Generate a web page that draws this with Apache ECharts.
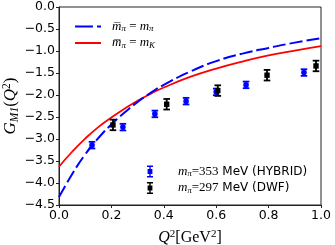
<!DOCTYPE html>
<html>
<head>
<meta charset="utf-8">
<script src="https://cdn.jsdelivr.net/npm/echarts@6/dist/echarts.min.js"></script>
<style>html,body{margin:0;padding:0;background:#fff}#c{width:335px;height:245px}</style>
</head>
<body>
<div id="c"></div>
<script>
// Model curves
const curveQ2 = [0, 0.05, 0.1, 0.15, 0.2, 0.25, 0.3, 0.35, 0.4, 0.5, 0.6, 0.7, 0.8, 0.9, 1.0];
const curvePi = [-4.32, -3.80, -3.35, -2.98, -2.67, -2.40, -2.16, -1.95, -1.77, -1.47, -1.23, -1.06, -0.93, -0.81, -0.71];
const curveK  = [-3.63, -3.29, -2.99, -2.73, -2.51, -2.31, -2.13, -1.97, -1.83, -1.59, -1.40, -1.24, -1.10, -0.99, -0.89];
// Lattice data
const hybridQ2  = [0.126, 0.244, 0.366, 0.485, 0.600, 0.714, 0.935];
const hybridGM1 = [-3.14, -2.73, -2.43, -2.14, -1.93, -1.77, -1.49];
const hybridErr = [0.075, 0.075, 0.075, 0.075, 0.075, 0.075, 0.075];
const dwfQ2  = [0.206, 0.411, 0.606, 0.794, 0.981];
const dwfGM1 = [-2.68, -2.21, -1.90, -1.55, -1.34];
const dwfErr = [0.12, 0.12, 0.12, 0.12, 0.12];

const chart = echarts.init(document.getElementById('c'), null, {renderer: 'canvas'});

function errItem(shape, color) {
  return function (params, api) {
    const x = api.value(0), y = api.value(1), e = api.value(2);
    const t = api.coord([x, y + e]);
    const b = api.coord([x, y - e]);
    const c = api.coord([x, y]);
    const st = {stroke: color, lineWidth: 1.8};
    const ch = [
      {type: 'line', shape: {x1: t[0], y1: t[1], x2: b[0], y2: b[1]}, style: st},
      {type: 'line', shape: {x1: t[0] - 3.3, y1: t[1], x2: t[0] + 3.3, y2: t[1]}, style: st},
      {type: 'line', shape: {x1: b[0] - 3.3, y1: b[1], x2: b[0] + 3.3, y2: b[1]}, style: st}
    ];
    if (shape === 'square') {
      ch.push({type: 'rect', shape: {x: c[0] - 2.7, y: c[1] - 2.7, width: 5.4, height: 5.4}, style: {fill: color}});
    } else {
      ch.push({type: 'circle', shape: {cx: c[0], cy: c[1], r: 2.8}, style: {fill: color}});
    }
    return {type: 'group', children: ch};
  };
}

const mathRich = {
  i: {fontFamily: 'Liberation Serif', fontStyle: 'italic', fontSize: 13, color: '#000'},
  s: {fontFamily: 'Liberation Serif', fontStyle: 'italic', fontSize: 9, color: '#000', padding: [5, 0, 0, 0]},
  n: {fontFamily: 'Liberation Serif', fontSize: 13, color: '#000'}
};
const ptRich = {
  i: {fontFamily: 'Liberation Serif', fontStyle: 'italic', fontSize: 13, color: '#000'},
  s: {fontFamily: 'Liberation Serif', fontStyle: 'italic', fontSize: 8.5, color: '#000', padding: [5, 0, 0, 0]},
  n: {fontFamily: 'Liberation Serif', fontSize: 13, color: '#000'},
  t: {fontFamily: 'DejaVu Sans', fontSize: 12, color: '#000'}
};

const errIcon = 'path://M0,0h6v1.4h-6z M2.3,0h1.4v12h-1.4z M0,10.6h6v1.4h-6z M0.6,3.5h4.8v5h-4.8z';
const dashIcon = 'path://M0,0h18v2h-18z M22,0h4v2h-4z';
const solidIcon = 'path://M0,0h26v2h-26z';

const option = {
  animation: false,
  backgroundColor: '#fff',
  grid: {left: 59, top: 7, right: 14, bottom: 40, containLabel: false, outerBoundsMode: 'none',
    show: true, borderColor: '#222', borderWidth: 1, backgroundColor: 'transparent'},
  xAxis: {
    type: 'value', min: 0, max: 1, interval: 0.2,
    axisLine: {show: true, onZero: false, lineStyle: {color: '#222', width: 1}},
    axisTick: {show: true, inside: false, length: 3, lineStyle: {color: '#222'}},
    splitLine: {show: false},
    axisLabel: {color: '#000', fontFamily: 'DejaVu Sans', fontSize: 12.5, margin: 4,
      formatter: v => v.toFixed(1)},
    name: '{i|Q}{sup|2}{n|[GeV}{sup|2}{n|]}',
    nameLocation: 'middle', nameGap: 24, nameMoveOverlap: false,
    nameTextStyle: {rich: {
      i: {fontFamily: 'Liberation Serif', fontStyle: 'italic', fontSize: 16, color: '#000'},
      n: {fontFamily: 'Liberation Serif', fontSize: 16, color: '#000'},
      sup: {fontFamily: 'Liberation Serif', fontSize: 11, color: '#000', padding: [0, 0, 7, 0]}
    }}
  },
  yAxis: {
    type: 'value', min: -4.5, max: 0, interval: 0.5,
    axisLine: {show: true, onZero: false, lineStyle: {color: '#222', width: 1}},
    axisTick: {show: true, inside: false, length: 3, lineStyle: {color: '#222'}},
    splitLine: {show: false},
    axisLabel: {color: '#000', fontFamily: 'DejaVu Sans', fontSize: 12.5, margin: 4,
      formatter: v => (v === 0 ? '0.0' : v.toFixed(1).replace('-', '\u2212'))},
    name: '{i|G}{sub|M1}{n|(}{i|Q}{sup|2}{n|)}',
    nameLocation: 'middle', nameGap: 38, nameRotate: 90, nameMoveOverlap: false,
    nameTextStyle: {rich: {
      i: {fontFamily: 'Liberation Serif', fontStyle: 'italic', fontSize: 17, color: '#000'},
      n: {fontFamily: 'Liberation Serif', fontSize: 17, color: '#000'},
      sub: {fontFamily: 'Liberation Serif', fontStyle: 'italic', fontSize: 11.5, color: '#000', padding: [8, 0, 0, 0]},
      sup: {fontFamily: 'Liberation Serif', fontSize: 11.5, color: '#000', padding: [0, 0, 8, 0]}
    }}
  },
  legend: [
    {
      orient: 'vertical', left: 70, top: 15, itemWidth: 26, itemHeight: 2, itemGap: 3,
      symbolKeepAspect: false,
      data: [{name: 'pi', icon: dashIcon}, {name: 'K', icon: solidIcon}],
      formatter: name => name === 'pi'
        ? '{i|m\u0305}{s|\u03c0}{n| = }{i|m}{s|\u03c0}'
        : '{i|m\u0305}{s|\u03c0}{n| = }{i|m}{s|K}',
      textStyle: {rich: mathRich, padding: [0, 0, 0, 6]}
    },
    {
      orient: 'vertical', left: 142, top: 160, itemWidth: 6, itemHeight: 12, itemGap: 3,
      data: [{name: 'HYBRID', icon: errIcon}, {name: 'DWF', icon: errIcon}],
      formatter: name => name === 'HYBRID'
        ? '{i|m}{s|\u03c0}{n|=353}{t| MeV (HYBRID)}'
        : '{i|m}{s|\u03c0}{n|=297}{t| MeV (DWF)}',
      textStyle: {rich: ptRich, padding: [0, 0, 0, 20]}
    }
  ],
  series: [
    {
      name: 'pi', type: 'line', smooth: true, showSymbol: false, symbol: 'none',
      data: curveQ2.map((q, i) => [q, curvePi[i]]),
      lineStyle: {color: '#0000ff', width: 2, type: [13, 4]},
      itemStyle: {color: '#0000ff'}, z: 3
    },
    {
      name: 'K', type: 'line', smooth: true, showSymbol: false, symbol: 'none',
      data: curveQ2.map((q, i) => [q, curveK[i]]),
      lineStyle: {color: '#ff0000', width: 1.8},
      itemStyle: {color: '#ff0000'}, z: 2
    },
    {
      name: 'HYBRID', type: 'custom', renderItem: errItem('circle', '#0000ff'),
      data: hybridQ2.map((q, i) => [q, hybridGM1[i], hybridErr[i]]),
      itemStyle: {color: '#0000ff'}, encode: {x: 0, y: 1}, z: 4
    },
    {
      name: 'DWF', type: 'custom', renderItem: errItem('square', '#000000'),
      data: dwfQ2.map((q, i) => [q, dwfGM1[i], dwfErr[i]]),
      itemStyle: {color: '#000000'}, encode: {x: 0, y: 1}, z: 5
    }
  ]
};
chart.setOption(option);
</script>
</body>
</html>
